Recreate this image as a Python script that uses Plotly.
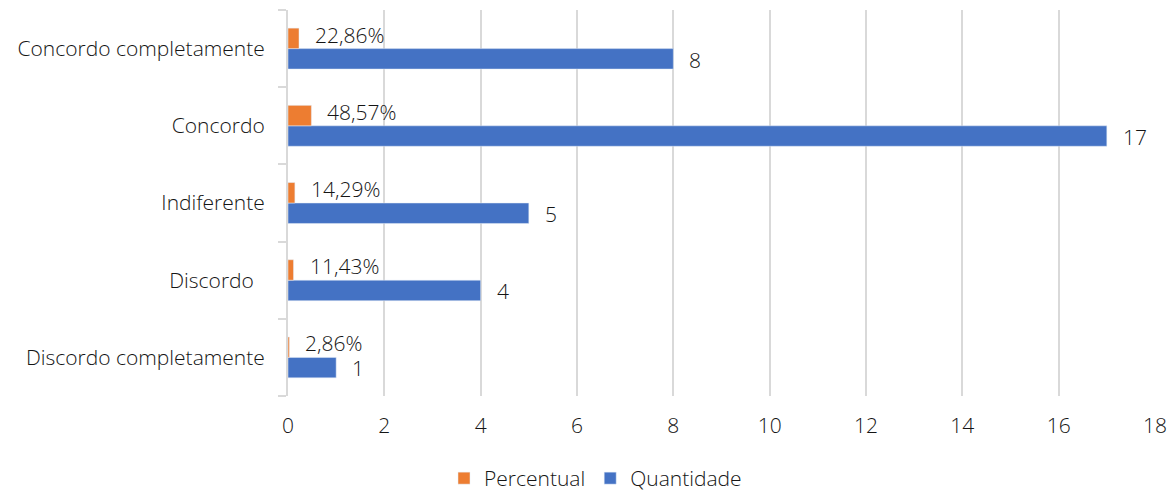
import plotly.graph_objects as go

categories = ["Discordo completamente", "Discordo\u00a0\u00a0", "Indiferente", "Concordo", "Concordo completamente"]
quantidade = [1, 4, 5, 17, 8]
percentual = [0.0286, 0.1143, 0.1429, 0.4857, 0.2286]
percent_labels = ["2,86%", "11,43%", "14,29%", "48,57%", "22,86%"]
x_ticks = [0, 2, 4, 6, 8, 10, 12, 14, 16, 18]

BLUE = "#4472C4"
ORANGE = "#ED7D31"
TXT = "#151515"
FONT = "Open Sans"
FS = 21
W = 300

def f():
    return dict(size=FS, color=TXT, family=FONT, weight=W)

fig = go.Figure()
fig.add_trace(go.Bar(y=categories, x=quantidade, orientation="h", name="Quantidade",
                     marker=dict(color=BLUE)))
fig.add_trace(go.Bar(y=categories, x=percentual, orientation="h", name="Percentual",
                     marker=dict(color=ORANGE)))

ann = []
for c, q, p, pl in zip(categories, quantidade, percentual, percent_labels):
    ann.append(dict(x=q, y=c, text=str(q), showarrow=False, xanchor="left", yanchor="middle",
                    xshift=14, yshift=-11, font=f()))
    ann.append(dict(x=p, y=c, text=pl, showarrow=False, xanchor="left", yanchor="middle",
                    xshift=14, yshift=14, font=f()))

fig.update_layout(
    width=1175, height=491,
    margin=dict(l=280, r=28, t=2, b=103),
    barmode="group", bargap=0.47, bargroupgap=0,
    plot_bgcolor="white", paper_bgcolor="white",
    font=f(),
    annotations=ann,
    legend=dict(orientation="h", xref="container", x=0.5, xanchor="center",
                yref="container", y=-0.006, yanchor="bottom", traceorder="reversed",
                font=f()),
    xaxis=dict(range=[0, 18], tickvals=x_ticks, showgrid=True, gridcolor="#D9D9D9", gridwidth=2,
               zeroline=False, showline=False, ticks="", ticklabelstandoff=15,
               tickfont=f()),
    yaxis=dict(showline=True, linecolor="#D9D9D9", linewidth=2, ticks="outside", ticklen=8,
               tickcolor="#D9D9D9", tickwidth=2, tickson="boundaries", showgrid=False,
               ticklabelstandoff=17, tickfont=f()),
)
fig.write_html("out.html")
